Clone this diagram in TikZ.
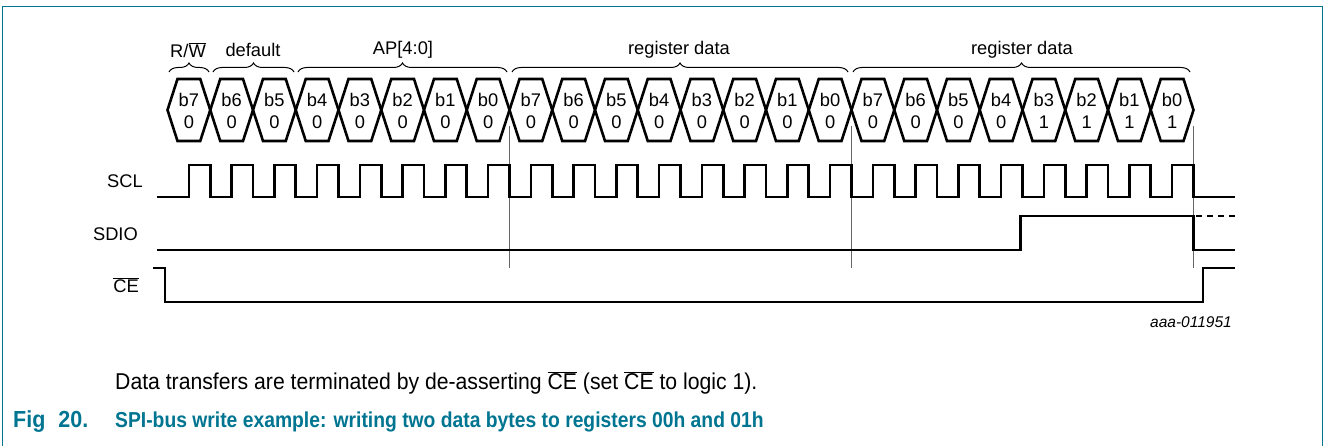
\documentclass[tikz,border=0pt]{standalone}
\usepackage{fontspec}
\setmainfont{Liberation Sans}
\usetikzlibrary{decorations.pathreplacing}
\definecolor{nxpteal}{RGB}{0,117,145}
\newcommand{\ovl}[1]{$\overline{\hbox{#1}}$}
\newcommand{\tall}[1]{\scalebox{1}[1.08]{#1}}
\newcommand{\taller}[1]{\scalebox{1}[1.12]{#1}}
\begin{document}
\begin{tikzpicture}[x=1pt,y=-1pt,
  sig/.style={line width=2.6pt,line join=miter,black},
  marker/.style={line width=0.8pt,black!60},
  brc/.style={decorate,decoration={brace,amplitude=9pt},line width=1pt},
  lbl/.style={font=\fontsize{18.3}{21}\selectfont,inner sep=0pt},
  bit/.style={font=\fontsize{18.3}{21}\selectfont,inner sep=0pt},
  note/.style={font=\fontsize{21.2}{24}\selectfont,inner sep=0pt,anchor=west},
  figcap/.style={font=\fontsize{19.3}{24}\selectfont\bfseries,text=nxpteal,inner sep=0pt,anchor=west}]
\useasboundingbox (0,0) rectangle (1327,446);
% frame
\draw[nxpteal,line width=1.5pt] (2.5,446) -- (2.5,6.5) -- (1322.5,6.5) -- (1322.5,446);
% hexagons
\foreach \k in {0,...,23}{
  \pgfmathsetmacro\xa{167.5+42.75*\k}
  \pgfmathsetmacro\xb{\xa+42.75}
  \pgfmathsetmacro\xm{\xa+21.375}
  \pgfmathtruncatemacro\bi{7-mod(\k,8)}
  \pgfmathtruncatemacro\bv{\k>19 ? 1 : 0}
  \draw[sig] (\xa,110) -- (\xa+10,79) -- (\xb-10,79) -- (\xb,110) -- (\xb-10,141) -- (\xa+10,141) -- cycle;
  \node[bit] (b\k) at (\xm,100) {b\bi};
  \node[bit] (v\k) at (\xm,122) {\bv};
}
% braces and labels
\coordinate (br1a) at (169,72); \coordinate (br1b) at (209,72);
\coordinate (br2a) at (213,72); \coordinate (br2b) at (294,72);
\coordinate (br3a) at (298,72); \coordinate (br3b) at (507,72);
\coordinate (br4a) at (512,72); \coordinate (br4b) at (848,72);
\coordinate (br5a) at (853,72); \coordinate (br5b) at (1190,72);
\draw[brc] (br1a) -- (br1b);
\draw[brc] (br2a) -- (br2b);
\draw[brc] (br3a) -- (br3b);
\draw[brc] (br4a) -- (br4b);
\draw[brc] (br5a) -- (br5b);
\node[lbl] (lrw) at (188,50) {R/\ovl{W}};
\node[lbl] (ldef) at (253,50) {default};
\node[lbl] (lap) at (403,50) {AP[4:0]};
\node[lbl] (lrd1) at (679,50) {register data};
\node[lbl] (lrd2) at (1022,50) {register data};
% marker lines
\foreach \x in {509.5,851.5,1193.5}{
  \draw[marker] (\x,126) -- (\x,268);
}
% SCL
\draw[sig] (157,197) foreach \k in {0,...,23}{
  -- ({188.875+42.75*\k},197) -- ({188.875+42.75*\k},165)
  -- ({210.25+42.75*\k},165) -- ({210.25+42.75*\k},197)} -- (1235,197);
% SDIO
\draw[sig] (157,250) -- (1020.5,250) -- (1020.5,216) -- (1193.5,216) -- (1193.5,250) -- (1235,250);
\draw[sig,dash pattern=on 6pt off 5pt] (1196,216) -- (1235,216);
% CE
\draw[sig] (153,268) -- (165,268) -- (165,302) -- (1203,302) -- (1203,268) -- (1235,268);
% signal labels
\node[lbl,anchor=east] (scl) at (143,181) {SCL};
\node[lbl,anchor=east] (sdio) at (138,234) {SDIO};
\node[lbl,anchor=east] (ce) at (139,285) {\ovl{CE}};
\node[font=\fontsize{15.5}{18}\selectfont\itshape,inner sep=0pt] (id) at (1191,322) {aaa-011951};
% texts
\node[note] (txt) at (115,383) {\tall{Data transfers are terminated by de-asserting \ovl{CE} (set \ovl{CE} to logic 1).}};
\node[figcap,font=\fontsize{21.5}{24}\selectfont\bfseries] (fignum) at (13,422) {\tall{Fig\hspace{13pt}20.}};
\node[figcap] (fig) at (115,422) {\taller{SPI-bus write example: writing two data bytes to registers 00h and 01h}};
\end{tikzpicture}
\end{document}
